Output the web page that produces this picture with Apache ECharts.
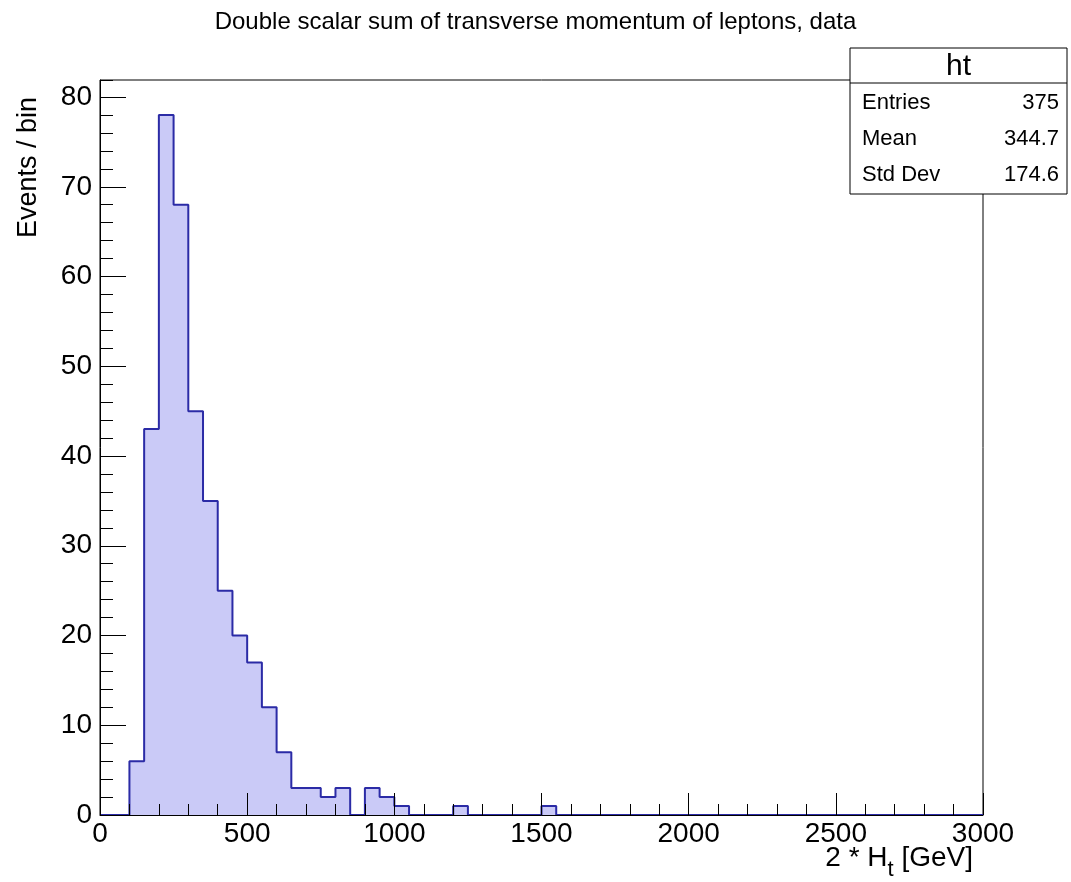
<!DOCTYPE html>
<html>
<head>
<meta charset="utf-8">
<script src="https://cdn.jsdelivr.net/npm/echarts@6/dist/echarts.min.js"></script>
<style>
html,body{margin:0;padding:0;background:#ffffff;}
#chart{width:1071px;height:882px;}
</style>
</head>
<body>
<div id="chart"></div>
<script>
// ---- data ----
const chartTitle = 'Double scalar sum of transverse momentum of leptons, data';
const xMin = 0;
const xMax = 3000;
const binWidth = 50;
// counts per 50 GeV bin, from 0 to 3000
const binCounts = [
  0, 0, 6, 43, 78, 68, 45, 35, 25, 20,
  17, 12, 7, 3, 3, 2, 3, 0, 3, 2,
  1, 0, 0, 0, 1, 0, 0, 0, 0, 0,
  1, 0, 0, 0, 0, 0, 0, 0, 0, 0,
  0, 0, 0, 0, 0, 0, 0, 0, 0, 0,
  0, 0, 0, 0, 0, 0, 0, 0, 0, 0
];
const yMax = 81.9;
const statsName = 'ht';
const statsLabels = ['Entries', 'Mean', 'Std Dev'];
const statsValues = ['375', '344.7', '174.6'];
const yAxisTitle = 'Events / bin';

// ---- build ----
const font = 'Liberation Sans, Arial, Helvetica, sans-serif';
const lineColor = '#2b2ba6';
const fillColor = '#cacaf7';

const stepData = binCounts.map((c, i) => [xMin + i * binWidth, c]);
stepData.push([xMax, binCounts[binCounts.length - 1]]);

const grid = {left: 100, top: 80, width: 883, height: 735};

const statsBox = {x: 850, y: 48, w: 217, h: 146, headerH: 35};
const statsChildren = [
  {type: 'rect', shape: {x: 0, y: 0, width: statsBox.w, height: statsBox.h},
   style: {fill: '#ffffff', stroke: '#000000', lineWidth: 1}},
  {type: 'line', shape: {x1: 0, y1: statsBox.headerH, x2: statsBox.w, y2: statsBox.headerH},
   style: {stroke: '#000000', lineWidth: 1}},
  {type: 'text', x: statsBox.w / 2, y: statsBox.headerH / 2 + 1,
   style: {text: statsName, font: '30px ' + font, fill: '#000', align: 'center', verticalAlign: 'middle'}}
];
statsLabels.forEach((lab, i) => {
  const cy = 55 + i * 36;
  statsChildren.push({type: 'text', x: 12, y: cy,
    style: {text: lab, font: '22px ' + font, fill: '#000', align: 'left', verticalAlign: 'middle'}});
  statsChildren.push({type: 'text', x: statsBox.w - 8, y: cy,
    style: {text: statsValues[i], font: '22px ' + font, fill: '#000', align: 'right', verticalAlign: 'middle'}});
});

const chart = echarts.init(document.getElementById('chart'), null, {renderer: 'canvas'});
const option = {
  backgroundColor: '#ffffff',
  animation: false,
  title: {
    text: chartTitle,
    left: 'center',
    top: 5,
    textStyle: {fontFamily: font, fontSize: 24, fontWeight: 'normal', color: '#000'}
  },
  grid: Object.assign({show: true, borderColor: '#000', borderWidth: 1, backgroundColor: 'transparent',
    containLabel: false, outerBoundsMode: 'none'}, grid),
  xAxis: {
    type: 'value',
    min: xMin, max: xMax, interval: 500,
    z: 10,
    name: '2 * H{sub|t} [GeV]',
    nameLocation: 'end',
    nameGap: -10,
    nameMoveOverlap: false,
    nameTextStyle: {
      fontFamily: font, fontSize: 28, color: '#000',
      align: 'right', verticalAlign: 'top', padding: [29, 0, 0, 0],
      rich: {sub: {fontFamily: font, fontSize: 22, lineHeight: 22, padding: [24, 0, 0, 0], color: '#000'}}
    },
    axisLine: {show: true, lineStyle: {color: '#000', width: 1}},
    axisTick: {show: true, inside: true, length: 22, lineStyle: {color: '#000', width: 1}},
    minorTick: {show: true, splitNumber: 5, length: 11, lineStyle: {color: '#000', width: 1}},
    splitLine: {show: false},
    axisLabel: {fontFamily: font, fontSize: 28, color: '#000', margin: 5,
      formatter: function (v) { return String(v); }}
  },
  yAxis: [
    {
      type: 'value',
      min: 0, max: yMax, interval: 10,
      position: 'left',
      z: 10,
      name: yAxisTitle,
      nameLocation: 'end',
      nameRotate: 90,
      nameGap: -17,
      nameMoveOverlap: false,
      nameTextStyle: {fontFamily: font, fontSize: 27, color: '#000',
        align: 'right', verticalAlign: 'bottom', padding: [0, 0, 58, 0]},
      axisLine: {show: true, lineStyle: {color: '#000', width: 1}},
      axisTick: {show: true, inside: true, length: 26, lineStyle: {color: '#000', width: 1}},
      splitLine: {show: false},
      axisLabel: {fontFamily: font, fontSize: 28, color: '#000', margin: 8, showMaxLabel: false,
        formatter: function (v) { return String(v); }}
    },
    {
      type: 'value',
      min: 0, max: yMax, interval: 2,
      position: 'left',
      offset: 0,
      z: 10,
      axisLine: {show: false},
      axisTick: {show: true, inside: true, length: 13, lineStyle: {color: '#000', width: 1}},
      splitLine: {show: false},
      axisLabel: {show: false}
    }
  ],
  graphic: [
    {type: 'group', x: statsBox.x, y: statsBox.y, z: 100, children: statsChildren}
  ],
  series: [{
    type: 'line',
    xAxisIndex: 0,
    yAxisIndex: 0,
    step: 'end',
    data: stepData,
    showSymbol: false,
    symbol: 'none',
    z: 2,
    lineStyle: {color: lineColor, width: 2},
    areaStyle: {color: fillColor, opacity: 1, origin: 'start'}
  }]
};
chart.setOption(option);
</script>
</body>
</html>
